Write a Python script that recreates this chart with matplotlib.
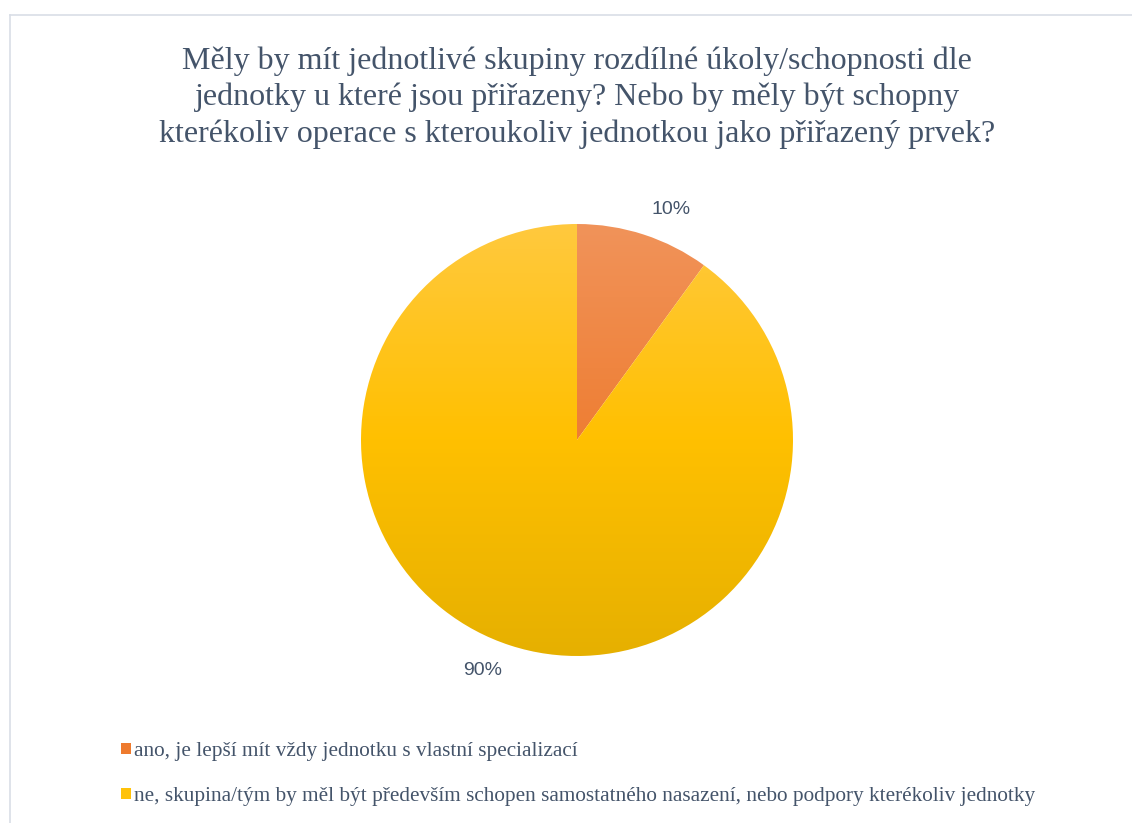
import matplotlib
matplotlib.use("Agg")
import matplotlib.pyplot as plt
import numpy as np
from matplotlib.colors import LinearSegmentedColormap
from matplotlib.lines import Line2D
from matplotlib.patches import Patch

# data
title = ("Měly by mít jednotlivé skupiny rozdílné úkoly/schopnosti dle\n"
         "jednotky u které jsou přiřazeny? Nebo by měly být schopny\n"
         "kterékoliv operace s kteroukoliv jednotkou jako přiřazený prvek?")
categories = [
    "ano, je lepší mít vždy jednotku s vlastní specializací",
    "ne, skupina/tým by měl být především schopen samostatného nasazení, nebo podpory kterékoliv jednotky",
]
shares = [10, 90]
pct_labels = ["10%", "90%"]

# gradient stops (top, middle, bottom) per slice
grad_colors = [
    ["#F1935A", "#EE7E33", "#E06A1C"],
    ["#FFC93E", "#FFC000", "#E6B000"],
]
legend_colors = ["#EE7A2E", "#FFC20A"]
text_color = "#44546A"

W, H = 1132, 823
fig = plt.figure(figsize=(W / 100, H / 100), dpi=100)
fig.patch.set_facecolor("white")

# chart border (only left and top are visible in the frame)
border = "#D9DEE6"
fig.add_artist(Line2D([9.5 / W, 9.5 / W], [0, 1 - 14.5 / H], color=border, lw=1.2,
                      transform=fig.transFigure))
fig.add_artist(Line2D([9.5 / W, 1], [1 - 14.5 / H, 1 - 14.5 / H], color=border, lw=1.2,
                      transform=fig.transFigure))

fig.text(577 / W, 1 - 46 / H, title, ha="center", va="top", fontsize=23,
         family="Liberation Serif", color=text_color, linespacing=1.32)

# pie
cx, cy, r = 577, 440, 216
ax = fig.add_axes([(cx - r) / W, (H - cy - r) / H, 2 * r / W, 2 * r / H])
wedges, texts = ax.pie(shares, labels=pct_labels, startangle=90, counterclock=False,
                       labeldistance=1.12, radius=1,
                       textprops=dict(family="Liberation Sans", fontsize=14, color=text_color))
ax.set_aspect("auto")
ax.axis("off")

grad = np.linspace(0, 1, 256).reshape(-1, 1)
for w, cols in zip(wedges, grad_colors):
    w.set_facecolor("none")
    w.set_edgecolor("none")
    cmap = LinearSegmentedColormap.from_list("g", cols[::-1])
    im = ax.imshow(grad, cmap=cmap, extent=(-1, 1, -1, 1), aspect="auto",
                   origin="lower", vmin=0, vmax=1, interpolation="bilinear")
    im.set_clip_path(w)

ax.set_xlim(-1, 1)
ax.set_ylim(-1, 1)

handles = [Patch(facecolor=c, edgecolor="none") for c in legend_colors]
fig.legend(handles, categories, loc="upper left", bbox_to_anchor=(121 / W, 1 - 742 / H),
           frameon=False, handlelength=0.47, handleheight=0.47, handletextpad=0.15,
           labelspacing=1.22, borderpad=0, borderaxespad=0,
           prop=dict(family="Liberation Serif", size=15.3), labelcolor=text_color)

fig.savefig("out.png", dpi=100)
